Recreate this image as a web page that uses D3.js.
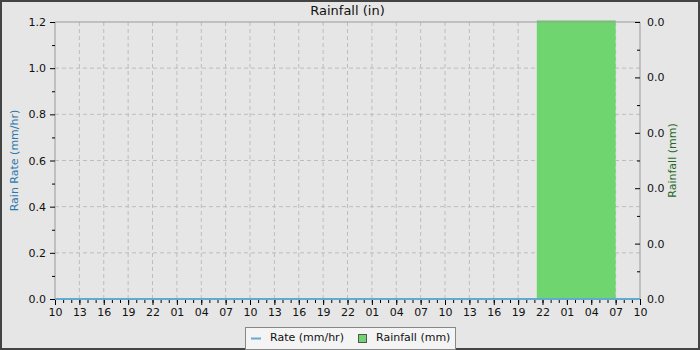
<!DOCTYPE html>
<html>
<head>
<meta charset="utf-8">
<script src="https://cdn.jsdelivr.net/npm/d3@7"></script>
<style>
  html, body { margin: 0; padding: 0; background: #e6e6e6; }
  svg { display: block; font-family: "DejaVu Sans", sans-serif; }
</style>
</head>
<body>
<svg id="chart" width="700" height="350"></svg>
<script>
// time window of the chart
const timeRange = ["2024-01-01T10:00", "2024-01-04T10:00"];

// rain rate series (mm/hr), flat at zero
const rateTimes = ["2024-01-01T10:00", "2024-01-02T10:00", "2024-01-03T10:00", "2024-01-04T10:00"];
const rateValues = [0, 0, 0, 0];

// rainfall bars (mm)
const rainStart = ["2024-01-03T21:18"];
const rainEnd = ["2024-01-04T07:00"];
const rainValues = [0.00503];

// axis domains
const rateDomain = [0, 1.2];
const rainDomain = [0, 0.005];

const parse = d3.timeParse("%Y-%m-%dT%H:%M");

let W = 700, H = 350;
let margin = {top: 22, right: 60, bottom: 51, left: 55};
let pw = W - margin.left - margin.right;
let ph = H - margin.top - margin.bottom;

const svg = d3.select("#chart");

// background + frame
svg.append("rect")
  .attr("x", 1).attr("y", 1)
  .attr("width", W - 2).attr("height", H - 2)
  .attr("fill", "#e6e6e6")
  .attr("stroke", "#444")
  .attr("stroke-width", 2);

//scales
let x = d3.scaleTime()
  .domain(timeRange.map(parse))
  .range([0, pw]);

let yRate = d3.scaleLinear()
  .domain(rateDomain)
  .range([ph, 0]);

let yRain = d3.scaleLinear()
  .domain(rainDomain)
  .range([ph, 0]);

const g = svg.append("g")
  .attr("transform", `translate(${margin.left},${margin.top})`);

// ticks counted from the window start (every 3h major, every 1h minor)
let t0 = x.domain()[0];
let nHours = d3.timeHour.count(x.domain()[0], x.domain()[1]);
let majorTimes = d3.range(0, nHours + 1, 3).map(h => d3.timeHour.offset(t0, h));
let minorTimes = d3.range(0, nHours + 1, 1).map(h => d3.timeHour.offset(t0, h));

// grid
g.append("g")
  .selectAll("line")
  .data(majorTimes.slice(1, -1))
  .enter().append("line")
  .attr("x1", d => x(d)).attr("x2", d => x(d))
  .attr("y1", 0).attr("y2", ph)
  .attr("stroke", "#bdbdbd")
  .attr("stroke-dasharray", "4,3");

g.append("g")
  .selectAll("line")
  .data(yRate.ticks(6).slice(1, -1))
  .enter().append("line")
  .attr("x1", 0).attr("x2", pw)
  .attr("y1", d => yRate(d)).attr("y2", d => yRate(d))
  .attr("stroke", "#bdbdbd")
  .attr("stroke-dasharray", "4,3");

// rainfall bars
let bars = rainStart.map((s, i) => ({start: parse(s), end: parse(rainEnd[i]), value: rainValues[i]}));
g.append("g")
  .selectAll("rect")
  .data(bars)
  .enter().append("rect")
  .attr("x", d => x(d.start))
  .attr("width", d => x(d.end) - x(d.start))
  .attr("y", d => yRain(d.value))
  .attr("height", d => yRain(0) - yRain(d.value))
  .attr("fill", "#6fd66f");

// plot frame (gray)
g.append("path")
  .attr("d", `M0,${ph}V0H${pw}V${ph}`)
  .attr("fill", "none")
  .attr("stroke", "#999")
  .attr("stroke-width", 1);

// left axis
g.append("g")
  .call(d3.axisLeft(yRate).tickValues(d3.range(0, 1.21, 0.2)).tickFormat(d3.format(".1f")).tickSize(5).tickPadding(4));
g.append("g")
  .call(d3.axisLeft(yRate).tickValues(d3.range(0.1, 1.2, 0.2)).tickFormat("").tickSize(3));

// right axis (ticks inward)
g.append("g")
  .attr("transform", `translate(${pw},0)`)
  .call(d3.axisRight(yRain).ticks(5).tickFormat(d3.format(".1f")).tickSize(-5).tickPadding(7));
g.append("g")
  .attr("transform", `translate(${pw},0)`)
  .call(d3.axisRight(yRain).tickValues(d3.range(0.0005, 0.005, 0.001)).tickFormat("").tickSize(-3));

// bottom axis
g.append("g")
  .attr("transform", `translate(0,${ph})`)
  .call(d3.axisBottom(x).tickValues(majorTimes).tickFormat(d3.timeFormat("%H")).tickSize(6).tickPadding(3));
g.append("g")
  .attr("transform", `translate(0,${ph})`)
  .call(d3.axisBottom(x).tickValues(minorTimes).tickFormat("").tickSize(4));

g.selectAll(".domain").remove();
g.selectAll(".tick line").attr("stroke", "#000");
g.selectAll(".tick text")
  .attr("fill", "#111")
  .style("font-size", "11px")
  .style("font-family", "DejaVu Sans, sans-serif");

// rate line (on top)
let rateData = rateTimes.map((t, i) => ({t: parse(t), v: rateValues[i]}));
g.append("path")
  .datum(rateData)
  .attr("fill", "none")
  .attr("stroke", "#64aad0")
  .attr("stroke-width", 2)
  .attr("d", d3.line().x(d => x(d.t)).y(d => yRate(d.v)));

// title
svg.append("text")
  .attr("x", margin.left + pw / 2)
  .attr("y", 15)
  .attr("text-anchor", "middle")
  .attr("fill", "#111")
  .style("font-size", "13px")
  .text("Rainfall (in)");

// axis titles
svg.append("text")
  .attr("transform", `translate(18,${margin.top + ph / 2}) rotate(-90)`)
  .attr("text-anchor", "middle")
  .attr("fill", "#2a78ad")
  .style("font-size", "11px")
  .text("Rain Rate (mm/hr)");

svg.append("text")
  .attr("transform", `translate(676,${margin.top + ph / 2}) rotate(-90)`)
  .attr("text-anchor", "middle")
  .attr("fill", "#1f6a1f")
  .style("font-size", "11px")
  .text("Rainfall (mm)");

// legend
let legend = svg.append("g").attr("transform", "translate(245,327)");
legend.append("rect")
  .attr("x", 0.5).attr("y", 0.5)
  .attr("width", 210).attr("height", 22)
  .attr("fill", "#f4f4f4")
  .attr("stroke", "#888");
legend.append("line")
  .attr("x1", 6).attr("x2", 16)
  .attr("y1", 11.5).attr("y2", 11.5)
  .attr("stroke", "#64aad0")
  .attr("stroke-width", 2);
legend.append("text")
  .attr("x", 25).attr("y", 14)
  .attr("fill", "#111")
  .style("font-size", "11px")
  .text("Rate (mm/hr)");
legend.append("rect")
  .attr("x", 113.5).attr("y", 7.5)
  .attr("width", 8).attr("height", 8)
  .attr("fill", "#6fd66f")
  .attr("stroke", "#555");
legend.append("text")
  .attr("x", 131).attr("y", 14)
  .attr("fill", "#111")
  .style("font-size", "11px")
  .text("Rainfall (mm)");
</script>
</body>
</html>
